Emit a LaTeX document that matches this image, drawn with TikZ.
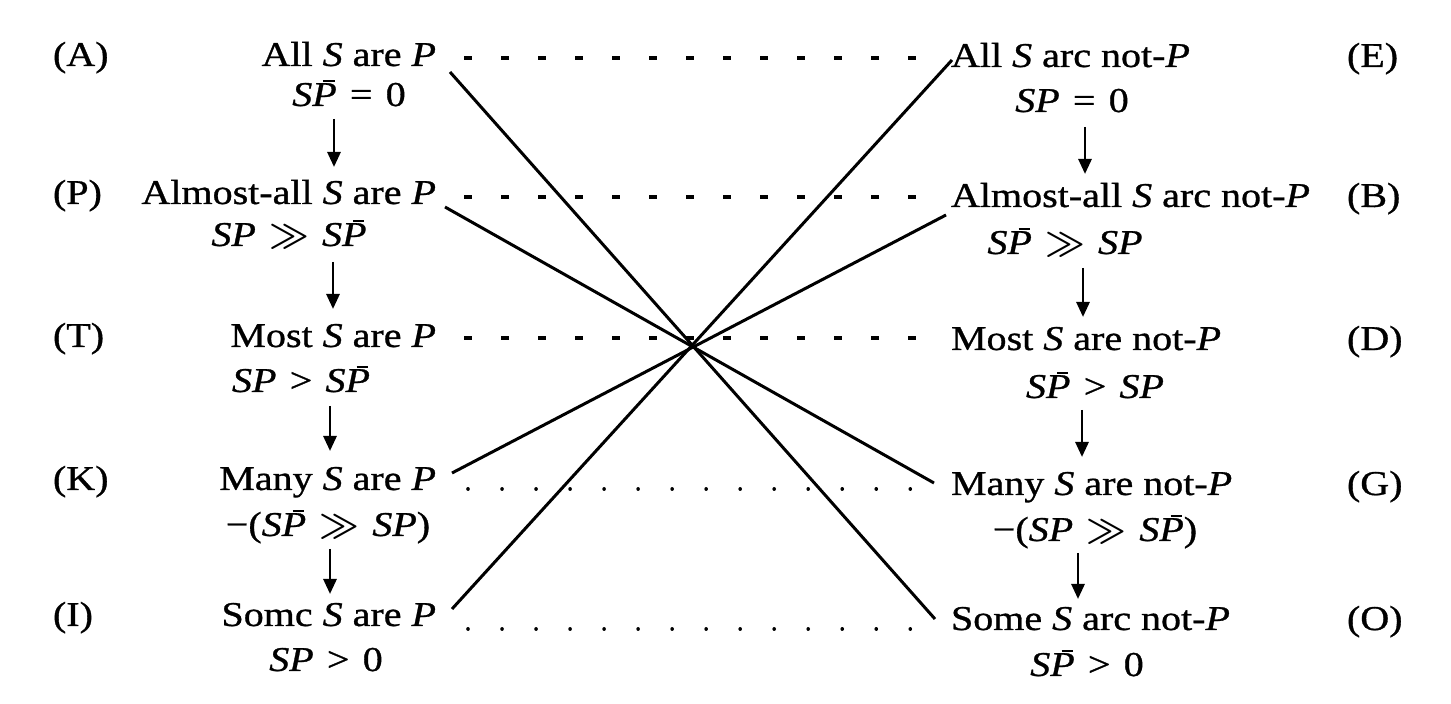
\documentclass[tikz,border=0pt]{standalone}
\usepackage{fontspec}
\setmainfont{Liberation Serif}[FakeStretch=1.15,FakeBold=0.9]
\usetikzlibrary{arrows.meta}
\newcommand{\iS}{\textit{S}}
\newcommand{\iP}{\textit{P}}
\newcommand{\Pb}{\textit{P}\llap{\rule[0.7em]{0.32em}{0.06em}\kern0.06em}}
\newcommand{\rel}[1]{\hspace{0.38em}#1\hspace{0.38em}}
\newcommand{\mgg}{\mbox{\boldmath$\gg$}}
\tikzset{
  every node/.style={inner sep=0pt, outer sep=0pt, font=\fontsize{17.4}{20}\selectfont},
  lefttxt/.style={anchor=base east},
  righttxt/.style={anchor=base west},
  subtxt/.style={anchor=base},
  lab/.style={anchor=base west},
  dashline/.style={line width=1.7pt, dash pattern=on 4pt off 14.5pt},
  dotline/.style={line width=1.8pt, line cap=round, dash pattern=on 0.01pt off 17pt},
  xline/.style={line width=1.5pt},
  implies/.style={line width=1.4pt, -{Triangle[length=7.5pt,width=6.5pt]}}
}
\begin{document}
\begin{tikzpicture}[x=0.5pt,y=-0.5pt]
\fill[white] (0,0) rectangle (1451,704);
\useasboundingbox (0,0) rectangle (1451,704);
% labels
\node[lab] (labA) at (53,66) {(A)};
\node[lab] (labP) at (53,204) {(P)};
\node[lab] (labT) at (53,347) {(T)};
\node[lab] (labK) at (53,490) {(K)};
\node[lab] (labI) at (53,626) {(I)};
\node[lab] (labE) at (1347,67) {(E)};
\node[lab] (labB) at (1347,207) {(B)};
\node[lab] (labD) at (1347,350) {(D)};
\node[lab] (labG) at (1347,495) {(G)};
\node[lab] (labO) at (1347,630) {(O)};
% left column
\node[lefttxt] (tA) at (436,66) {All \iS{} are \iP};
\node[subtxt] (sA) at (349,106) {\iS\Pb\rel{=}0};
\node[lefttxt] (tP) at (436,204) {Almost-all \iS{} are \iP};
\node[subtxt] (sP) at (289,246) {\iS\iP\rel{\mgg}\iS\Pb};
\node[lefttxt] (tT) at (436,347) {Most \iS{} are \iP};
\node[subtxt] (sT) at (301,392) {\iS\iP\rel{>}\iS\Pb};
\node[lefttxt] (tK) at (436,490) {Many \iS{} are \iP};
\node[subtxt] (sK) at (328,536) {−(\iS\Pb\rel{\mgg}\iS\iP)};
\node[lefttxt] (tI) at (436,626) {Somc \iS{} are \iP};
\node[subtxt] (sI) at (326,671) {\iS\iP\rel{>}0};
% right column
\node[righttxt] (tE) at (951,67) {All \iS{} arc not-\iP};
\node[subtxt] (sE) at (1072,112) {\iS\iP\rel{=}0};
\node[righttxt] (tB) at (951,207) {Almost-all \iS{} arc not-\iP};
\node[subtxt] (sB) at (1065,254) {\iS\Pb\rel{\mgg}\iS\iP};
\node[righttxt] (tD) at (951,350) {Most \iS{} are not-\iP};
\node[subtxt] (sD) at (1095,398) {\iS\Pb\rel{>}\iS\iP};
\node[righttxt] (tG) at (951,495) {Many \iS{} are not-\iP};
\node[subtxt] (sG) at (1095,541) {−(\iS\iP\rel{\mgg}\iS\Pb)};
\node[righttxt] (tO) at (951,630) {Some \iS{} arc not-\iP};
\node[subtxt] (sO) at (1087,676) {\iS\Pb\rel{>}0};
% arrow end points
\coordinate (a1s) at (334,119); \coordinate (a1e) at (334,167);
\coordinate (a2s) at (333,262); \coordinate (a2e) at (333,309);
\coordinate (a3s) at (330,406); \coordinate (a3e) at (330,451);
\coordinate (a4s) at (330,549); \coordinate (a4e) at (330,594);
\coordinate (b1s) at (1085,127); \coordinate (b1e) at (1085,174);
\coordinate (b2s) at (1083,268); \coordinate (b2e) at (1083,317);
\coordinate (b3s) at (1082,410); \coordinate (b3e) at (1082,457);
\coordinate (b4s) at (1078,553); \coordinate (b4e) at (1078,599);
\draw[implies] (a1s) -- (a1e);
\draw[implies] (a2s) -- (a2e);
\draw[implies] (a3s) -- (a3e);
\draw[implies] (a4s) -- (a4e);
\draw[implies] (b1s) -- (b1e);
\draw[implies] (b2s) -- (b2e);
\draw[implies] (b3s) -- (b3e);
\draw[implies] (b4s) -- (b4e);
% horizontal contrary links
\coordinate (dA1) at (464,58);  \coordinate (dA2) at (930,58);
\coordinate (dP1) at (464,197); \coordinate (dP2) at (930,197);
\coordinate (dT1) at (464,338); \coordinate (dT2) at (930,338);
\coordinate (dK1) at (468,489); \coordinate (dK2) at (930,489);
\coordinate (dI1) at (468,629); \coordinate (dI2) at (930,629);
\draw[dashline] (dA1) -- (dA2);
\draw[dashline] (dP1) -- (dP2);
\draw[dashline] (dT1) -- (dT2);
\draw[dotline] (dK1) -- (dK2);
\draw[dotline] (dI1) -- (dI2);
% crossing contradictories
\coordinate (cA) at (450,72);  \coordinate (cO) at (935,619);
\coordinate (cP) at (445,207); \coordinate (cG) at (934,483);
\coordinate (cK) at (452,473); \coordinate (cB) at (946,215);
\coordinate (cI) at (452,609); \coordinate (cE) at (952,60);
\draw[xline] (cA) -- (cO);
\draw[xline] (cP) -- (cG);
\draw[xline] (cK) -- (cB);
\draw[xline] (cI) -- (cE);
\end{tikzpicture}
\end{document}
